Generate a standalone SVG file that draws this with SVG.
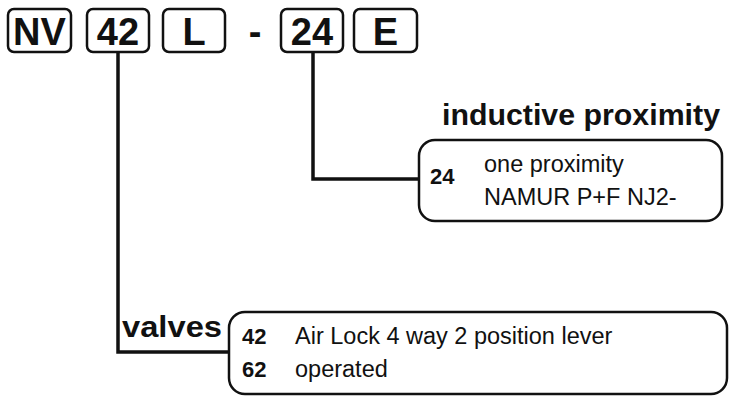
<svg xmlns="http://www.w3.org/2000/svg" width="734" height="396" viewBox="0 0 734 396">
<style>
.box{fill:#fff;stroke:#111;stroke-width:2.5}
.code{font-family:"Liberation Sans",Arial,sans-serif;font-weight:bold;font-size:38px;fill:#111;text-anchor:middle}
.title{font-family:"Liberation Sans",Arial,sans-serif;font-weight:bold;font-size:30px;fill:#111}
.num{font-family:"Liberation Sans",Arial,sans-serif;font-weight:bold;font-size:22px;fill:#111}
.desc{font-family:"Liberation Sans",Arial,sans-serif;font-size:23.5px;fill:#111}
.conn{fill:none;stroke:#111;stroke-width:3.5}
</style>
<rect width="734" height="396" fill="#fff"/>
<g id="connectors">
<polyline class="conn" points="118,52 118,352 229,352"/>
<polyline class="conn" points="313,52 313,179 419,179"/>
</g>
<g id="code-NV"><rect class="box" x="8" y="9" width="63" height="43" rx="6"/><text class="code" x="39.5" y="45">NV</text></g>
<g id="code-42"><rect class="box" x="87" y="9" width="62" height="43" rx="6"/><text class="code" x="118" y="45">42</text></g>
<g id="code-L"><rect class="box" x="163" y="9" width="62" height="43" rx="6"/><text class="code" x="194" y="45">L</text></g>
<g id="dash"><text class="code" x="255" y="45">-</text></g>
<g id="code-24"><rect class="box" x="281" y="9" width="62" height="43" rx="6"/><text class="code" x="312" y="45">24</text></g>
<g id="code-E"><rect class="box" x="354" y="9" width="63" height="43" rx="6"/><text class="code" x="385.5" y="45">E</text></g>
<g id="proximity">
<text class="title" x="442" y="125" textLength="278" lengthAdjust="spacingAndGlyphs">inductive proximity</text>
<rect class="box" x="419" y="140" width="303" height="81" rx="16"/>
<text class="num" x="430" y="184">24</text>
<text class="desc" x="484" y="172">one proximity</text>
<text class="desc" x="484" y="205">NAMUR P+F NJ2-</text>
</g>
<g id="valves">
<text class="title" x="122" y="337" textLength="100" lengthAdjust="spacingAndGlyphs">valves</text>
<rect class="box" x="229" y="312" width="498" height="82" rx="16"/>
<text class="num" x="242" y="344">42</text>
<text class="desc" x="295" y="344">Air Lock 4 way 2 position lever</text>
<text class="num" x="242" y="377">62</text>
<text class="desc" x="295" y="377">operated</text>
</g>
</svg>
